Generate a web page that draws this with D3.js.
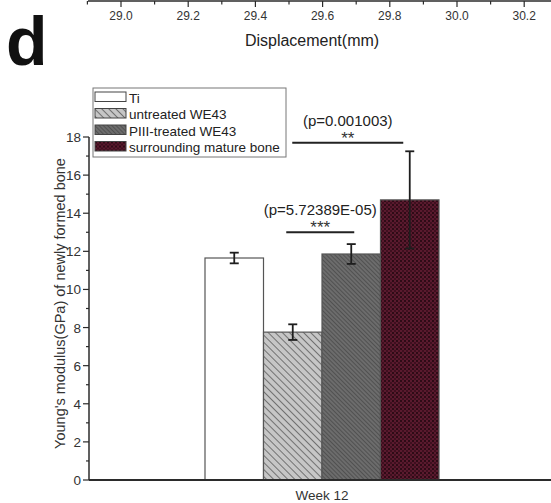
<!DOCTYPE html>
<html>
<head>
<meta charset="utf-8">
<script src="https://cdn.jsdelivr.net/npm/d3@7"></script>
<style>
  body { margin: 0; background: #fff; }
  svg { display: block; font-family: "Liberation Sans", Arial, sans-serif; }
</style>
</head>
<body>
<div id="chart"></div>
<script>
"use strict";

// data
const groups = ["Ti", "untreated WE43", "PIII-treated WE43", "surrounding mature bone"];
const means = [11.65, 7.76, 11.86, 14.7];
const errs = [0.28, 0.41, 0.52, 2.55];
const category = ["Week 12"];
const yTicks = [0, 2, 4, 6, 8, 10, 12, 14, 16, 18];
const topTicks = [29.0, 29.2, 29.4, 29.6, 29.8, 30.0, 30.2];
const sigLabels = ["(p=5.72389E-05)", "(p=0.001003)"];
const sigStars = ["***", "**"];
const sigPairs = [[1, 2], [1, 3]];
const sigLevels = [13.0, 17.7];

const width = 551, height = 503;
const ink = "#2b2b2b";

const svg = d3.select("#chart").append("svg")
              .attr("width", width)
              .attr("height", height);

// patterns
const defs = svg.append("defs");
const p1 = defs.append("pattern").attr("id", "hatch1")
               .attr("patternUnits", "userSpaceOnUse")
               .attr("width", 5).attr("height", 5)
               .attr("patternTransform", "rotate(45)");
p1.append("rect").attr("width", 5).attr("height", 5).attr("fill", "#c6c6c6");
p1.append("line").attr("x1", 0).attr("y1", 0).attr("x2", 5).attr("y2", 0)
  .attr("stroke", "#676767").attr("stroke-width", 1.8);
const p2 = defs.append("pattern").attr("id", "hatch2")
               .attr("patternUnits", "userSpaceOnUse")
               .attr("width", 3).attr("height", 3)
               .attr("patternTransform", "rotate(45)");
p2.append("rect").attr("width", 3).attr("height", 3).attr("fill", "#6c6c6c");
p2.append("line").attr("x1", 0).attr("y1", 0).attr("x2", 3).attr("y2", 0)
  .attr("stroke", "#3e3e3e").attr("stroke-width", 1.2);
const p3 = defs.append("pattern").attr("id", "hatch3")
               .attr("patternUnits", "userSpaceOnUse")
               .attr("width", 4).attr("height", 4);
p3.append("rect").attr("width", 4).attr("height", 4).attr("fill", "#5a1a2e");
p3.append("rect").attr("width", 2).attr("height", 2).attr("fill", "#2e0b16");
p3.append("rect").attr("x", 2).attr("y", 2).attr("width", 2).attr("height", 2).attr("fill", "#3f0f1f");
const fills = ["#ffffff", "url(#hatch1)", "url(#hatch2)", "url(#hatch3)"];

// remnant of the previous panel's x axis
const xTop = d3.scaleLinear().domain([29.0, 30.0]).range([121, 457]);
const topAxis = svg.append("g").attr("transform", "translate(0,1)");
topAxis.append("line").attr("x1", 88).attr("x2", width).attr("y1", 0).attr("y2", 0)
       .attr("stroke", ink).attr("stroke-width", 1.5);
topAxis.selectAll("line.minor")
       .data(d3.range(28.9, 30.35, 0.2)).enter().append("line")
       .attr("class", "minor")
       .attr("x1", d => xTop(d)).attr("x2", d => xTop(d))
       .attr("y1", 0).attr("y2", 3.5)
       .attr("stroke", ink).attr("stroke-width", 1.2);
topAxis.selectAll("line.major")
       .data(topTicks).enter().append("line")
       .attr("class", "major")
       .attr("x1", d => xTop(d)).attr("x2", d => xTop(d))
       .attr("y1", 0).attr("y2", 6)
       .attr("stroke", ink).attr("stroke-width", 1.2);
topAxis.selectAll("text")
       .data(topTicks).enter().append("text")
       .attr("x", d => xTop(d)).attr("y", 19)
       .attr("text-anchor", "middle")
       .attr("font-size", 12).attr("fill", "#333")
       .text(d3.format(".1f"));
svg.append("text").attr("x", 312).attr("y", 46)
   .attr("text-anchor", "middle").attr("font-size", 16).attr("fill", "#222")
   .text("Displacement(mm)");

// panel letter
svg.append("text").attr("x", 6).attr("y", 65)
   .attr("font-size", 68).attr("font-weight", "bold").attr("fill", "#111")
   .text("d");

// main chart scales
const y = d3.scaleLinear().domain([0, 18]).range([480, 137]);
const x0 = d3.scaleBand().domain(category).range([89, 555]);
const x1 = d3.scaleBand().domain(groups).range([-117, 117]);
const cx = x0("Week 12") + x0.bandwidth() / 2;

// bars
const bars = svg.append("g");
bars.selectAll("rect")
    .data(groups).enter().append("rect")
    .attr("x", d => cx + x1(d))
    .attr("y", (d, i) => y(means[i]))
    .attr("width", x1.bandwidth())
    .attr("height", (d, i) => y(0) - y(means[i]))
    .attr("fill", (d, i) => fills[i])
    .attr("stroke", "#555")
    .attr("stroke-width", 1.2);

// error bars
const eb = svg.append("g").attr("stroke", "#1e1e1e").attr("stroke-width", 1.8);
groups.forEach((g, i) => {
    const mx = cx + x1(g) + x1.bandwidth() / 2;
    const lo = y(means[i] - errs[i]), hi = y(means[i] + errs[i]);
    eb.append("line").attr("x1", mx).attr("x2", mx).attr("y1", lo).attr("y2", hi);
    eb.append("line").attr("x1", mx - 4.5).attr("x2", mx + 4.5).attr("y1", lo).attr("y2", lo);
    eb.append("line").attr("x1", mx - 4.5).attr("x2", mx + 4.5).attr("y1", hi).attr("y2", hi);
});

// y axis
const yAxis = svg.append("g").attr("transform", "translate(89,0)");
yAxis.append("line").attr("x1", 0).attr("x2", 0).attr("y1", y(0)).attr("y2", y(18))
     .attr("stroke", ink).attr("stroke-width", 1.5);
yAxis.selectAll("line.minor")
     .data(d3.range(1, 18, 2)).enter().append("line")
     .attr("class", "minor")
     .attr("x1", -3).attr("x2", 0)
     .attr("y1", d => y(d)).attr("y2", d => y(d))
     .attr("stroke", ink).attr("stroke-width", 1.2);
yAxis.selectAll("line.major")
     .data(yTicks).enter().append("line")
     .attr("class", "major")
     .attr("x1", -6).attr("x2", 0)
     .attr("y1", d => y(d)).attr("y2", d => y(d))
     .attr("stroke", ink).attr("stroke-width", 1.2);
yAxis.selectAll("text")
     .data(yTicks).enter().append("text")
     .attr("x", -8).attr("y", d => y(d) + 5)
     .attr("text-anchor", "end")
     .attr("font-size", 13.5).attr("fill", "#333")
     .text(d => d);
svg.append("text")
   .attr("transform", `translate(65,${(y(0) + y(18)) / 2 - 5}) rotate(-90)`)
   .attr("text-anchor", "middle").attr("font-size", 14.5).attr("fill", "#333")
   .text("Young's modulus(GPa) of newly formed bone");

// x axis
svg.append("line").attr("x1", 89).attr("x2", width).attr("y1", y(0)).attr("y2", y(0))
   .attr("stroke", ink).attr("stroke-width", 1.8);
svg.append("text").attr("x", cx).attr("y", 500)
   .attr("text-anchor", "middle").attr("font-size", 13.5).attr("fill", "#333")
   .text(category[0]);

// significance brackets
const sigPad = [[-6.5, 3], [-0.5, -6.5]];
sigPairs.forEach((p, i) => {
    const ly = y(sigLevels[i]);
    const xa = cx + x1(groups[p[0]]) + x1.bandwidth() / 2 + sigPad[i][0];
    const xb = cx + x1(groups[p[1]]) + x1.bandwidth() / 2 + sigPad[i][1];
    svg.append("line").attr("x1", xa).attr("x2", xb).attr("y1", ly).attr("y2", ly)
       .attr("stroke", "#222").attr("stroke-width", 2);
    const tx = (xa + xb) / 2;
    svg.append("text").attr("x", tx).attr("y", ly + 1)
       .attr("text-anchor", "middle").attr("font-size", 17).attr("fill", "#333")
       .text(sigStars[i]);
    svg.append("text").attr("x", tx).attr("y", ly - 17)
       .attr("text-anchor", "middle").attr("font-size", 15).attr("fill", "#222")
       .text(sigLabels[i]);
});

// legend
const legend = svg.append("g").attr("transform", "translate(93,88)");
legend.append("rect").attr("width", 193).attr("height", 69)
      .attr("fill", "#fff").attr("stroke", "#777").attr("stroke-width", 1);
groups.forEach((g, i) => {
    const row = legend.append("g").attr("transform", `translate(2,${4 + i * 16.5})`);
    row.append("rect").attr("width", 31).attr("height", 9.5)
       .attr("fill", fills[i]).attr("stroke", "#444").attr("stroke-width", 1);
    row.append("text").attr("x", 34).attr("y", 10.5)
       .attr("font-size", 13.5).attr("fill", "#222")
       .text(g);
});
</script>
</body>
</html>
